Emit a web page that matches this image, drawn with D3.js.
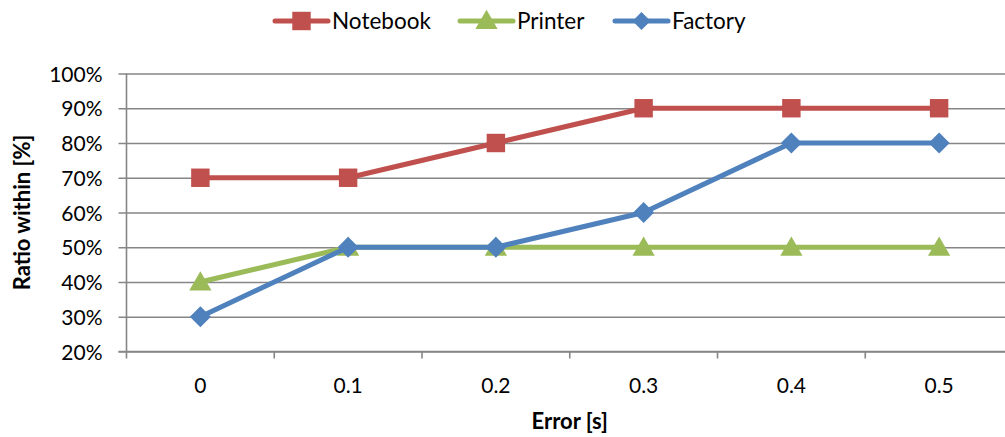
<!DOCTYPE html>
<html>
<head>
<meta charset="utf-8">
<script src="https://cdn.jsdelivr.net/npm/d3@7"></script>
<style>
  html, body { margin: 0; padding: 0; background: #fff; }
  svg { display: block; overflow: hidden; }
  text { font-family: Lato, "Noto Sans", sans-serif; fill: #000; }
</style>
</head>
<body>
<svg id="chart" width="1005" height="437"></svg>
<script>
// Error thresholds on the x axis
const categories = ["0", "0.1", "0.2", "0.3", "0.4", "0.5"];
// Share of samples within each error threshold
const notebook = [0.70, 0.70, 0.80, 0.90, 0.90, 0.90];
const printer  = [0.40, 0.50, 0.50, 0.50, 0.50, 0.50];
const factory  = [0.30, 0.50, 0.50, 0.60, 0.80, 0.80];
const seriesNames = ["Notebook", "Printer", "Factory"];
const yTicks = [0.2, 0.3, 0.4, 0.5, 0.6, 0.7, 0.8, 0.9, 1.0];

const colors = { Notebook: "#C0504D", Printer: "#9BBB59", Factory: "#4F81BD" };
const shapes = { Notebook: "square", Printer: "triangle", Factory: "diamond" };
const values = { Notebook: notebook, Printer: printer, Factory: factory };

const svg = d3.select("#chart");
const plotLeft = 126.5, plotRight = 1013, plotTop = 73.5, plotBottom = 351.5;
const gridColor = "#868686";

const x = d3.scaleBand().domain(categories).range([plotLeft, plotRight]).paddingInner(0).paddingOuter(0);
const y = d3.scaleLinear().domain([0.2, 1.0]).range([plotBottom, plotTop]);
const cx = c => x(c) + x.bandwidth() / 2;

// Horizontal gridlines with outward ticks on the left
const yAxis = d3.axisLeft(y).tickValues(yTicks).tickFormat(d3.format(".0%"))
  .tickSize(-(plotRight - plotLeft)).tickPadding(24);
const gy = svg.append("g").attr("transform", `translate(${plotLeft},0)`).call(yAxis);
gy.select(".domain").remove();
gy.selectAll(".tick line").attr("x1", -8).attr("stroke", gridColor).attr("stroke-width", 1.6);
gy.selectAll(".tick text").attr("font-size", 21).attr("font-family", "Lato, sans-serif")
  .attr("fill", "#000").attr("dy", "0.36em");
svg.append("line").attr("x1", plotLeft).attr("x2", plotLeft).attr("y1", plotTop).attr("y2", plotBottom)
  .attr("stroke", gridColor).attr("stroke-width", 1.6);

// Category axis: ticks sit on the band boundaries, labels at band centers
const boundaries = categories.map(c => x(c)).concat([plotRight]);
svg.append("line").attr("x1", plotLeft - 8).attr("x2", plotRight).attr("y1", plotBottom).attr("y2", plotBottom)
  .attr("stroke", gridColor).attr("stroke-width", 1.6);
svg.append("g").selectAll("line").data(boundaries).join("line")
  .attr("x1", d => d).attr("x2", d => d).attr("y1", plotBottom).attr("y2", plotBottom + 7)
  .attr("stroke", gridColor).attr("stroke-width", 1.6);
svg.append("g").selectAll("text").data(categories).join("text")
  .attr("x", d => cx(d)).attr("y", 393).attr("text-anchor", "middle")
  .attr("font-size", 21).text(d => d);

// Axis titles
svg.append("text").attr("x", (plotLeft + plotRight) / 2).attr("y", 429).attr("text-anchor", "middle")
  .attr("font-size", 22).attr("font-weight", "bold").text("Error [s]");
svg.append("text").attr("transform", `translate(30,${(plotTop + plotBottom) / 2}) rotate(-90)`)
  .attr("text-anchor", "middle").attr("font-size", 22).attr("font-weight", "bold")
  .text("Ratio within [%]");

// Marker shapes
function markerPath(shape) {
  if (shape === "square") return d3.symbol(d3.symbolSquare, 340)();
  if (shape === "triangle") return d3.symbol(d3.symbolTriangle, 215)();
  return "M0,-10.5L10.5,0L0,10.5L-10.5,0Z";
}

const line = d3.line().x((d, i) => cx(categories[i])).y(d => y(d));

seriesNames.forEach(name => {
  const g = svg.append("g");
  g.append("path").datum(values[name]).attr("d", line).attr("fill", "none")
    .attr("stroke", colors[name]).attr("stroke-width", 5).attr("stroke-linejoin", "round");
  g.selectAll("path.m").data(values[name]).join("path").attr("class", "m")
    .attr("transform", (d, i) => `translate(${cx(categories[i])},${y(d) + (shapes[name] === "triangle" ? 2 : 0)})`)
    .attr("d", markerPath(shapes[name])).attr("fill", colors[name]);
});

// Legend
const legendItems = [
  { name: "Notebook", x0: 275 },
  { name: "Printer", x0: 460 },
  { name: "Factory", x0: 615 }
];
const ly = 21;
legendItems.forEach(it => {
  const g = svg.append("g");
  g.append("line").attr("x1", it.x0).attr("x2", it.x0 + 53).attr("y1", ly).attr("y2", ly)
    .attr("stroke", colors[it.name]).attr("stroke-width", 5).attr("stroke-linecap", "round");
  g.append("path").attr("transform", `translate(${it.x0 + 26.5},${ly + (shapes[it.name] === "triangle" ? 1.5 : 0)})`)
    .attr("d", shapes[it.name] === "diamond" ? "M0,-9L9,0L0,9L-9,0Z" : markerPath(shapes[it.name]))
    .attr("fill", colors[it.name]);
  g.append("text").attr("x", it.x0 + 57).attr("y", ly + 8).attr("font-size", 22.5).text(it.name);
});
</script>
</body>
</html>
